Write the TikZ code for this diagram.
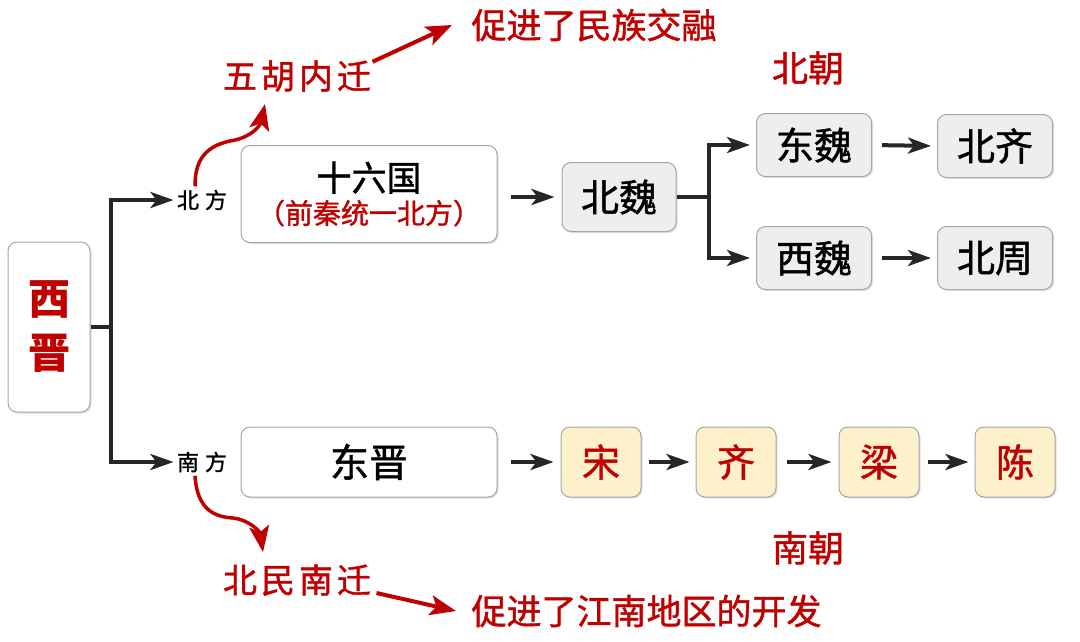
\documentclass[tikz,border=0pt]{standalone}
\usepackage{fontspec}
\setmainfont{Noto Sans CJK SC}
\newfontfamily\mfont{Noto Sans CJK SC}[RawFeature={embolden=1.2}]
\usetikzlibrary{shadows,arrows.meta}
\definecolor{xred}{RGB}{192,0,0}
\definecolor{boxgray}{RGB}{238,238,238}
\definecolor{boxcream}{RGB}{253,241,204}
\newcommand\fsz[1]{\fontsize{#1pt}{#1pt}\selectfont}
\newcommand\gap{\hspace{4pt}}

\begin{document}
\begin{tikzpicture}[x=1pt,y=-1pt,
  box/.style={draw=black!35,line width=1pt,rounded corners=9pt,fill=white,
    drop shadow={shadow xshift=1.5pt,shadow yshift=-1.5pt,opacity=.25}},
  gbox/.style={box,fill=boxgray,minimum width=115,minimum height=63,font=\mfont\fsz{38}},
  ybox/.style={box,fill=boxcream,text=xred,minimum width=80,minimum height=70,font=\mfont\fsz{38}},
  arr/.style={-{Stealth[length=23pt,width=16pt,inset=6pt]},line width=4pt,draw=black!85},
  rarr/.style={-{Stealth[length=26pt,width=20pt,inset=6pt]},line width=4pt,draw=xred},
  lbl/.style={text=xred,font=\mfont\fsz{35}},
]
\useasboundingbox (0,0) rectangle (1080,641);

% west jin
\node[box,minimum width=82,minimum height=170,align=center,text=xred,
  font=\bfseries\fontsize{42}{54}\selectfont] (xj) at (49,327) {西\\晋};
\node[font=\mfont\fsz{22}] (bf) at (202,200) {北\hspace{6pt}方};
\node[font=\mfont\fsz{22}] (nf) at (202,462) {南\hspace{6pt}方};
\path (xj.east) ++(20,0) coordinate (j1);
\draw[arr] (xj.east) -- (j1) |- (bf.west);
\draw[arr] (j1) |- (nf.west);

% north
\node[box,minimum width=256,minimum height=97,align=center] (sld) at (369,194)
  {{\mfont\fsz{35}十六国}\\[5pt]{\mfont\fsz{28}\color{xred}（前秦统一北方）}};
\node[gbox,minimum width=114,minimum height=69] (bw) at (619,197) {北魏};
\node[gbox] (dw) at (814,145) {东魏};
\node[gbox] (xw) at (814,258) {西魏};
\node[gbox] (bq) at (995,146) {北齐};
\node[gbox] (bz) at (995,258) {北周};
\node[lbl,font=\mfont\fsz{36}] (bc) at (808,68) {北朝};
\draw[arr,shorten <=13pt,shorten >=7pt] (sld.east |- bw) -- (bw.west);
\path (bw.east) ++(32,0) coordinate (j2);
\draw[arr,shorten >=6pt] (bw.east) -- (j2) |- (dw.west);
\draw[arr,shorten >=6pt] (j2) |- (xw.west);
\draw[arr,shorten <=10pt,shorten >=6pt] (dw.east) -- (bq.west);
\draw[arr,shorten <=10pt,shorten >=6pt] (xw.east) -- (bz.west);

% south
\node[box,minimum width=256,minimum height=70,font=\mfont\fsz{39}] (dj) at (369,462) {东晋};
\node[ybox] (song) at (601,462) {宋};
\node[ybox] (qi) at (736,462) {齐};
\node[ybox] (liang) at (879,462) {梁};
\node[ybox] (chen) at (1015,462) {陈};
\node[lbl,font=\mfont\fsz{36}] (nc) at (808,548) {南朝};
\draw[arr,shorten <=13pt,shorten >=7pt] (dj.east) -- (song.west);
\draw[arr,shorten <=7pt,shorten >=6pt] (song.east) -- (qi.west);
\draw[arr,shorten <=10pt,shorten >=7pt] (qi.east) -- (liang.west);
\draw[arr,shorten <=8pt,shorten >=6pt] (liang.east) -- (chen.west);

% migrations
\node[lbl,font=\mfont\fsz{34}] (wh) at (297,76) {五\gap 胡\gap 内\gap 迁};
\node[lbl,anchor=west] (cj1) at (468,25) {促进了民族交融};
\node[lbl,font=\mfont\fsz{34}] (bm) at (297,580) {北\gap 民\gap 南\gap 迁};
\node[lbl,anchor=west] (cj2) at (468,611) {促进了江南地区的开发};
\coordinate (wtip) at (265,104);
\coordinate (ntip) at (263,552);
\draw[rarr,line width=3.5pt] ([xshift=-7pt]bf.north) .. controls (195,160) and (205,145) .. (235,140)
  .. controls (252,136) and (260,126) .. (wtip);
\draw[rarr,line width=3.5pt] ([xshift=-7pt]nf.south) .. controls (197,510) and (215,517) .. (233,518)
  .. controls (250,520) and (260,532) .. (ntip);
\draw[rarr] ([shift={(-2,5)}]wh.north east) -- ([xshift=-16pt]cj1.west);
\draw[rarr] ([shift={(2,13)}]bm.east) -- ([xshift=-12pt]cj2.west);
\end{tikzpicture}
\end{document}
